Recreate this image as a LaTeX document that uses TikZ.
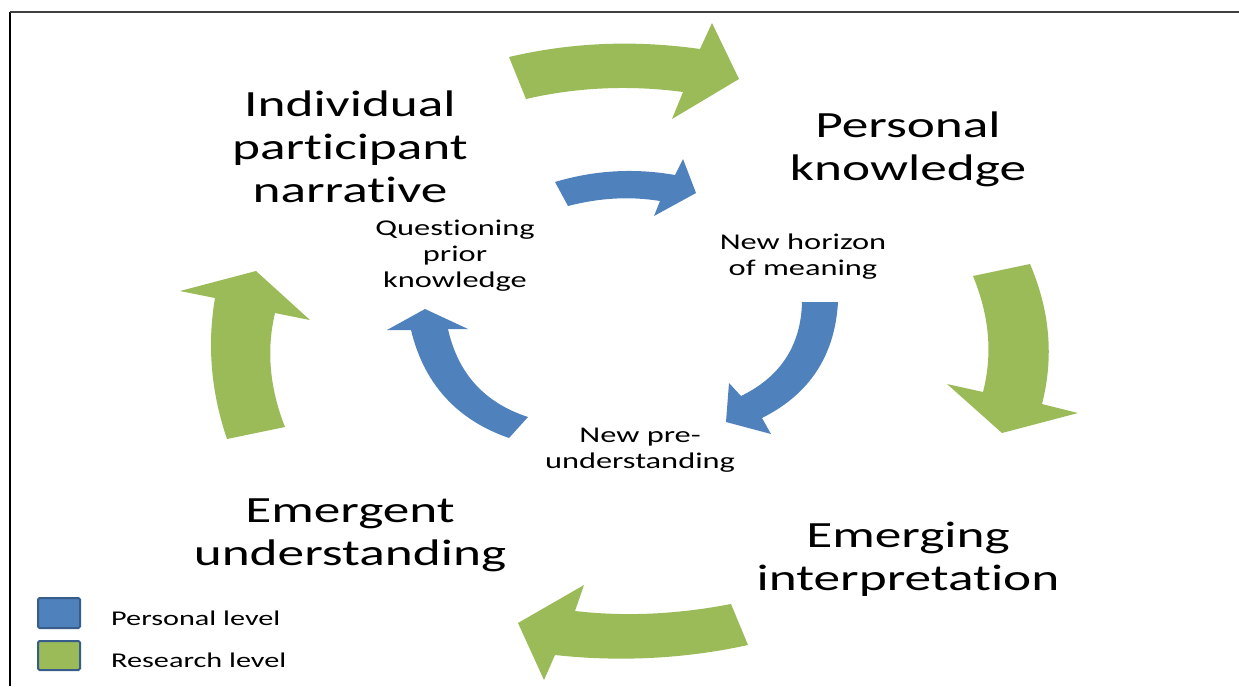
\documentclass[tikz,border=0pt]{standalone}
\usepackage{fontspec}
\setmainfont{Carlito}[FakeStretch=1.44, Ligatures={NoCommon, NoRequired, NoContextual}]
\usetikzlibrary{positioning}
\definecolor{ResearchGreen}{RGB}{155, 187, 89}
\definecolor{PersonalBlue}{RGB}{79, 129, 189}
\definecolor{BoxEdge}{RGB}{56, 93, 138}

\begin{document}
\begin{tikzpicture}[x=1pt, y=-1pt,
    research/.style={fill=ResearchGreen, draw=none},
    personal/.style={fill=PersonalBlue, draw=none},
    bigtext/.style={align=center, font=\fontsize{37}{43}\selectfont},
    smalltext/.style={align=center, font=\fontsize{22.5}{26}\selectfont},
    keytext/.style={anchor=west, inner sep=0pt, font=\fontsize{21}{25}\selectfont},
    keybox/.style={draw=BoxEdge, line width=2pt, rounded corners=1.5pt}]
            \useasboundingbox (0,0) rectangle (1239,686);
            \draw[line width=1.2pt] (10,686) -- (10,12);
            \draw[line width=2pt, black!75] (10,12) -- (1239,12);

            % research level (outer ring)
            \fill[research] (509,57) .. controls (573,42) and (636,40) .. (700,49)
                -- (712,23) -- (739,79) -- (672,119) -- (683,92)
                .. controls (631,85) and (578,87) .. (526,99) -- cycle;
            \fill[research] (1030,264) .. controls (1050,311) and (1054,357) .. (1042,404)
                -- (1078,413) -- (1002,433) -- (947,384) -- (983,392)
                .. controls (993,353) and (989,315) .. (973,276) -- cycle;
            \fill[research] (748,645) .. controls (684,659) and (619,662) .. (555,655)
                -- (544,680) -- (518,623) -- (584,585) -- (575,611)
                .. controls (627,617) and (679,614) .. (731,604) -- cycle;
            \fill[research] (285,427) .. controls (270,389) and (266,351) .. (275,313)
                -- (310,320) -- (256,271) -- (180,291) -- (215,298)
                .. controls (207,345) and (211,392) .. (227,439) -- cycle;

            % personal level (inner ring)
            \fill[personal] (555,182) .. controls (595,170) and (635,168) .. (675,175)
                -- (683,159) -- (696,193) -- (654,216) -- (660,201)
                .. controls (629,196) and (599,198) .. (568,206) -- cycle;
            \fill[personal] (838,302) .. controls (835,355) and (810,394) .. (762,418)
                -- (771,434) -- (726,422) -- (729,383) -- (741,396)
                .. controls (780,377) and (801,346) .. (802,302) -- cycle;
            \fill[personal] (509,438) .. controls (457,420) and (424,384) .. (411,330)
                -- (387,330) -- (425,309) -- (468,329) -- (448,329)
                .. controls (458,374) and (485,403) .. (528,417) -- cycle;

            % stage labels
            \node[bigtext] (narrative) at (350,147) {Individual\\participant\\narrative};
            \node[bigtext] (knowledge) at (908,149) {Personal\\knowledge};
            \node[bigtext] (interpretation) at (908,559) {Emerging\\interpretation};
            \node[bigtext] (understanding) at (350,535) {Emergent\\understanding};

            \node[smalltext] (questioning) at (455,256) {Questioning\\prior\\knowledge};
            \node[smalltext] (horizon) at (803,257) {New horizon\\of meaning};
            \node[smalltext] (preunderstanding) at (640,450) {New pre-\\understanding};

            % key
            \draw[keybox, fill=PersonalBlue] (38,598) rectangle (80,628);
            \draw[keybox, fill=ResearchGreen] (38,641) rectangle (80,670);
            \node[keytext] (personalkey) at (111,618) {Personal level};
            \node[keytext] (researchkey) at (111,660) {Research level};
        \end{tikzpicture}
\end{document}
